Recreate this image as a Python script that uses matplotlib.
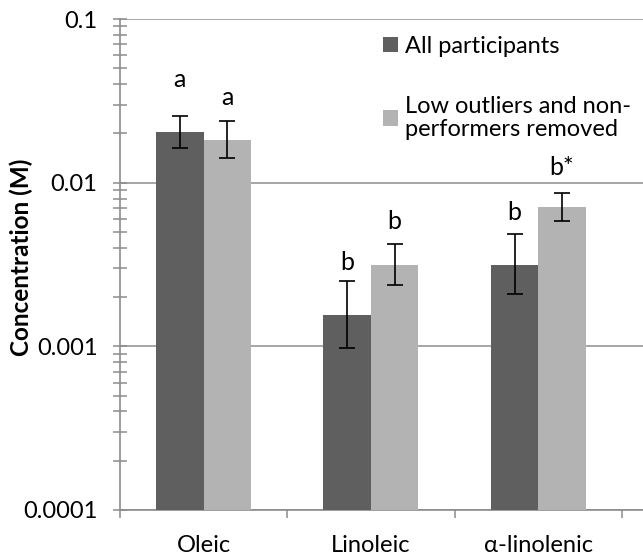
import numpy as np
import matplotlib
matplotlib.use("Agg")
import matplotlib.pyplot as plt
from matplotlib.ticker import FixedLocator, FixedFormatter, NullFormatter

plt.rcParams['font.family'] = ['Lato', 'DejaVu Sans']

acidos = ["Oleic", "Linoleic", "\u03b1-linolenic"]
series = ["All participants", "Low outliers and non-\nperformers removed"]

todos = [0.0204, 0.00156, 0.00316]
todos_alto = [0.0254, 0.00251, 0.00488]
todos_bajo = [0.0164, 0.00097, 0.00208]

filtrados = [0.0182, 0.00314, 0.00706]
filtrados_alto = [0.0237, 0.00422, 0.00869]
filtrados_bajo = [0.0142, 0.00236, 0.00586]

letras_todos = ["a", "b", "b"]
letras_filtrados = ["a", "b", "b*"]
altura_todos = [0.0426, 0.00327, 0.00656]
altura_filtrados = [0.0331, 0.00583, 0.01235]

oscuro = "#5f5f5f"
claro = "#b3b3b3"
gris = "#8c8c8c"

fig = plt.figure(figsize=(6.43, 5.57), dpi=100)
ax = fig.add_axes([120 / 643, 1 - 510 / 557, 523 / 643, 491 / 557])

x = np.arange(len(acidos))
ancho = 0.284
desp = 0.142

err_t = [np.array(todos) - np.array(todos_bajo), np.array(todos_alto) - np.array(todos)]
err_f = [np.array(filtrados) - np.array(filtrados_bajo), np.array(filtrados_alto) - np.array(filtrados)]

ax.bar(x - desp, todos, ancho, color=oscuro, label=series[0], zorder=3)
ax.bar(x + desp, filtrados, ancho, color=claro, label=series[1], zorder=3)
ax.errorbar(x - desp, todos, yerr=err_t, fmt='none', ecolor='black',
            elinewidth=1.2, capsize=5.5, capthick=1.2, zorder=4)
ax.errorbar(x + desp, filtrados, yerr=err_f, fmt='none', ecolor='black',
            elinewidth=1.2, capsize=5.5, capthick=1.2, zorder=4)

for i in range(len(acidos)):
    ax.text(x[i] - desp, altura_todos[i], letras_todos[i], ha='center',
            va='center', fontsize=18)
    ax.text(x[i] + desp, altura_filtrados[i], letras_filtrados[i], ha='center',
            va='center', fontsize=18)

ax.set_yscale('log')
ax.set_ylim(0.0001, 0.1)
ax.set_xlim(-0.5, 2.626)

ax.yaxis.set_major_locator(FixedLocator([0.0001, 0.001, 0.01, 0.1]))
ax.yaxis.set_major_formatter(FixedFormatter(["0.0001", "0.001", "0.01", "0.1"]))
menores = [m * 10.0 ** e for e in range(-4, -1) for m in range(2, 10)]
ax.yaxis.set_minor_locator(FixedLocator(menores))
ax.yaxis.set_minor_formatter(NullFormatter())
ax.tick_params(axis='y', which='both', direction='inout', length=10.5,
               width=1.1, color=gris, labelsize=17, pad=11)

ax.xaxis.set_major_locator(FixedLocator([-0.5, 0.5, 1.5, 2.5]))
ax.xaxis.set_major_formatter(NullFormatter())
ax.xaxis.set_minor_locator(FixedLocator(x))
ax.xaxis.set_minor_formatter(FixedFormatter(acidos))
ax.tick_params(axis='x', which='major', direction='out', length=6,
               width=1.1, color=gris)
ax.tick_params(axis='x', which='minor', length=0, labelsize=17, pad=18)

ax.grid(axis='y', which='major', color="#a6a6a6", linewidth=1.4, zorder=0)

for lado in ['top', 'right']:
    ax.spines[lado].set_visible(False)
for lado in ['left', 'bottom']:
    ax.spines[lado].set_color(gris)
    ax.spines[lado].set_linewidth(1.2)

ax.set_ylabel("Concentration (M)", fontsize=17.5, fontweight='bold')
ax.yaxis.set_label_coords(-0.166, 0.515)

leyenda = ax.legend(loc='upper left', bbox_to_anchor=(0.484, 0.985), frameon=False,
                    fontsize=17, handlelength=0.65, handleheight=0.65,
                    handletextpad=0.3, labelspacing=1.65, borderaxespad=0)
for t in leyenda.get_texts():
    t.set_linespacing(1.12)

fig.savefig("out.png", dpi=100)
